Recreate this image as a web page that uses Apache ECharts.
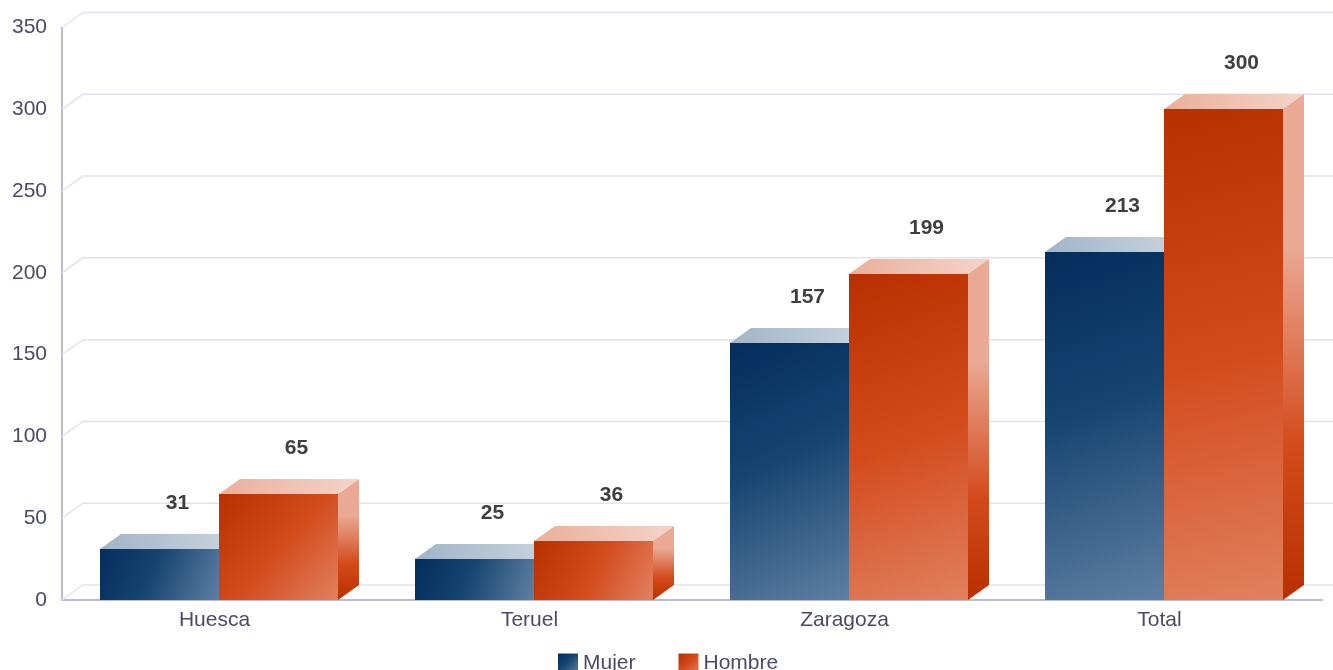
<!DOCTYPE html>
<html>
<head>
<meta charset="utf-8">
<style>html,body{margin:0;padding:0;background:#fff;overflow:hidden}#c{width:1333px;height:670px}</style>
<script src="https://cdn.jsdelivr.net/npm/echarts@6/dist/echarts.min.js"></script>
</head>
<body>
<div id="c"></div>
<script>
var categories = ['Huesca', 'Teruel', 'Zaragoza', 'Total'];
var mujer = [31, 25, 157, 213];
var hombre = [65, 36, 199, 300];
var yTicks = [0, 50, 100, 150, 200, 250, 300, 350];

var DX = 21, DY = -15, BAR = 119, FONT = 'Liberation Sans, Arial, sans-serif';
var TEXT = '#4a4a6a';

function lin(x, y, x2, y2, stops) {
  return { type: 'linear', x: x, y: y, x2: x2, y2: y2,
    colorStops: stops.map(function (s) { return { offset: s[0], color: s[1] }; }) };
}
var palette = {
  Mujer: {
    front: lin(0, 0, 1, 1, [[0, '#042d5c'], [0.45, '#164572'], [1, '#5f7fa3']]),
    top: lin(0, 0, 1, 0, [[0, '#a1b4c8'], [1, '#c9d5e0']]),
    side: lin(0, 0, 0, 1, [[0, '#a1b4c8'], [0.3, '#a1b4c8'], [0.7, '#164572'], [1, '#042d5c']])
  },
  Hombre: {
    front: lin(0, 0, 1, 1, [[0, '#b83000'], [0.5, '#d34a1b'], [1, '#e1815f']]),
    top: lin(0, 0, 1, 0, [[0, '#eaaf9a'], [1, '#f4d4c8']]),
    side: lin(0, 0, 0, 1, [[0, '#eaa994'], [0.3, '#eaa994'], [0.7, '#d34a1b'], [1, '#b83000']])
  }
};

function barSeries(name, values, dir) {
  var col = palette[name];
  return {
    name: name,
    type: 'custom',
    z: dir < 0 ? 3 : 4,
    clip: false,
    data: values.map(function (v, i) { return [i, v]; }),
    renderItem: function (params, api) {
      var p = api.coord([api.value(0), api.value(1)]);
      var base = api.coord([api.value(0), 0]);
      var c = Math.floor(p[0]);
      var x0 = dir < 0 ? c - BAR : c;
      var x1 = x0 + BAR;
      var t = Math.round(p[1]), b = Math.round(base[1]);
      return {
        type: 'group',
        children: [
          { type: 'polygon', shape: { points: [[x0, t], [x0 + DX, t + DY], [x1 + DX, t + DY], [x1, t]] }, style: { fill: col.top } },
          { type: 'polygon', shape: { points: [[x1, t], [x1 + DX, t + DY], [x1 + DX, b + DY], [x1, b]] }, style: { fill: col.side } },
          { type: 'rect', shape: { x: x0, y: t, width: BAR, height: b - t }, style: { fill: col.front } },
          { type: 'text', z2: 100, x: (x0 + x1) / 2 + 18, y: t + DY - 31,
            style: { text: String(api.value(1)), fill: '#3f3f3f', font: 'bold 21px ' + FONT, align: 'center', verticalAlign: 'middle' } }
        ]
      };
    }
  };
}

var gridBack = {
  type: 'custom',
  silent: true,
  z: 1,
  clip: false,
  data: yTicks.map(function (v) { return [0, v]; }),
  renderItem: function (params, api) {
    var y = api.coord([0, api.value(1)])[1];
    var cs = params.coordSys;
    return {
      type: 'polyline',
      shape: { points: [[cs.x, y], [cs.x + DX, y + DY], [cs.x + cs.width + DX, y + DY]] },
      style: { stroke: '#e2e2ee', lineWidth: 1.5, fill: null }
    };
  }
};

var chart = echarts.init(document.getElementById('c'), null, { renderer: 'canvas' });
chart.setOption({
  animation: false,
  backgroundColor: '#fff',
  textStyle: { fontFamily: FONT },
  grid: { left: 62, top: 27.5, width: 1260, height: 572.5, containLabel: false },
  xAxis: {
    type: 'category',
    data: categories,
    axisLine: { lineStyle: { color: '#a4a4c2', width: 1.5 } },
    axisTick: { show: false },
    splitLine: { show: false },
    axisLabel: { color: TEXT, fontSize: 21, fontFamily: FONT, margin: 10, padding: [0, 10, 0, 0] }
  },
  yAxis: {
    type: 'value',
    min: 0, max: 350, interval: 50,
    axisLine: { show: true, lineStyle: { color: '#a4a4c2', width: 1.5 } },
    axisTick: { show: false },
    splitLine: { show: false },
    axisLabel: { color: TEXT, fontSize: 21, fontFamily: FONT, margin: 15, padding: [0, 0, 2, 0] }
  },
  legend: {
    left: 553, top: 648,
    itemWidth: 20, itemHeight: 20, itemGap: 43,
    selectedMode: false,
    textStyle: { color: TEXT, fontSize: 21, fontFamily: FONT },
    data: [
      { name: 'Mujer', icon: 'rect', itemStyle: { color: palette.Mujer.front } },
      { name: 'Hombre', icon: 'rect', itemStyle: { color: palette.Hombre.front } }
    ]
  },
  series: [gridBack, barSeries('Mujer', mujer, -1), barSeries('Hombre', hombre, 1)]
});
</script>
</body>
</html>
